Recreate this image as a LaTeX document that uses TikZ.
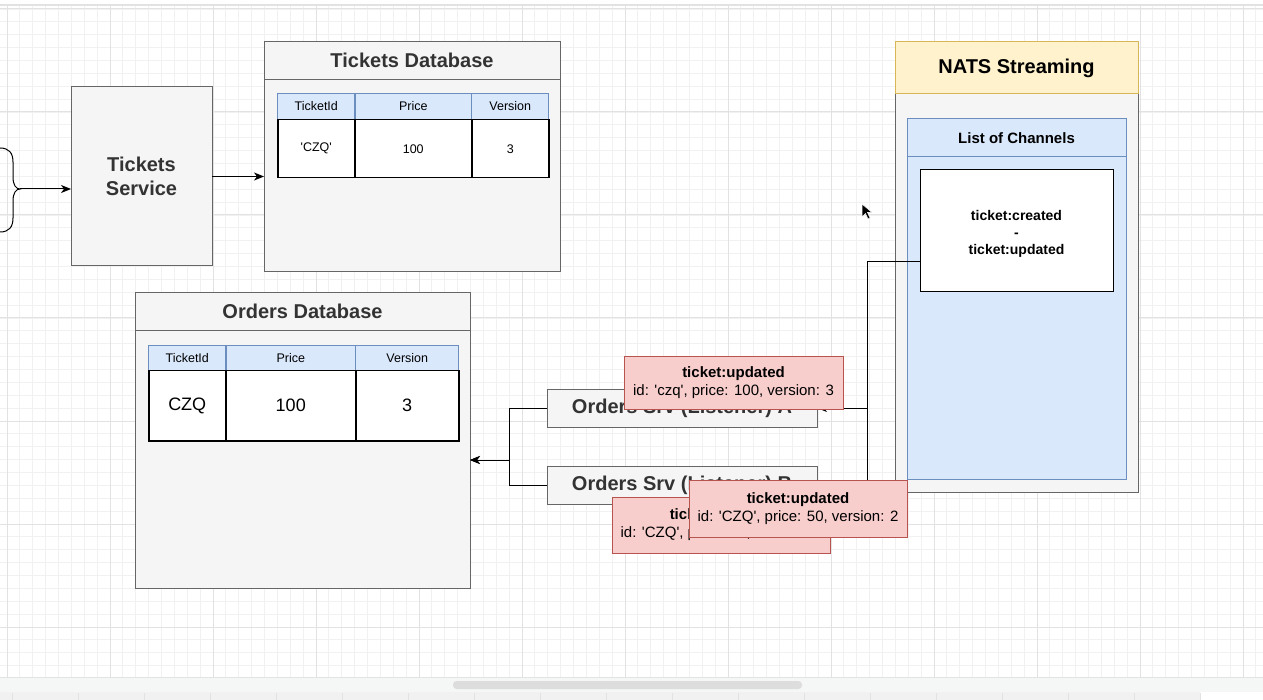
\documentclass[tikz,border=0pt]{standalone}
\usepackage{fontspec}
\setmainfont{Liberation Sans}
\usetikzlibrary{matrix,arrows.meta}

\definecolor{boxgray}{HTML}{F5F5F5}
\definecolor{linegray}{HTML}{666666}
\definecolor{txtgray}{HTML}{333333}
\definecolor{hdblue}{HTML}{DAE8FC}
\definecolor{lnblue}{HTML}{6C8EBF}
\definecolor{evred}{HTML}{F8CECC}
\definecolor{lnred}{HTML}{B85450}
\definecolor{hdyellow}{HTML}{FFF2CC}
\definecolor{lnyellow}{HTML}{D6B656}
\definecolor{gridlight}{HTML}{F1F1F1}
\definecolor{griddark}{HTML}{E2E2E2}
\definecolor{barfill}{HTML}{F5F6F6}
\definecolor{thumbgray}{HTML}{DDDDDD}

\newcommand\sq{\textquotesingle}

\tikzset{
  gridminor/.style={draw=gridlight, line width=0.8pt},
  gridmajor/.style={draw=griddark, line width=1pt},
  graybox/.style={draw=linegray, fill=boxgray, line width=1pt, inner sep=0pt, outer sep=0pt, text=txtgray},
  title/.style={font=\fontsize{20}{24}\selectfont\bfseries, text=txtgray, inner sep=0pt},
  event/.style={draw=lnred, fill=evred, line width=1pt, inner sep=0pt, outer sep=0pt, align=center, font=\fontsize{15}{18}\selectfont},
  conn/.style={draw=black, line width=1pt},
  arr/.style={conn, -{Stealth[length=10pt,width=8pt,inset=3pt]}},
  hcell/.style={draw=lnblue, fill=hdblue, line width=1pt, font=\fontsize{12.5}{15}\selectfont},
  dcell/.style={draw=black, fill=white, line width=1.5pt},
}

\begin{document}
\begin{tikzpicture}[x=1pt,y=-1pt]
      \useasboundingbox (0,0) rectangle (1263,700);
      \fill[white] (0,0) rectangle (1263,700);
      \begin{scope}[shift={(7,9)}]
        \draw[gridminor] (-7,668) grid[step=12.875pt] (1256,-4);
        \draw[gridmajor] (-7,668) grid[step=103pt] (1256,-4);
      \end{scope}
      \draw[griddark, line width=1.2pt] (0,5) -- (1263,5);

      \node[graybox, title, align=center, minimum width=141pt, minimum height=179pt] (ticketsSrv) at (141.5,176.5) {Tickets\\Service};

      \node[graybox, minimum width=296pt, minimum height=230pt] (ticketsDB) at (412,157) {};
      \draw[linegray, line width=1pt] ([yshift=-38pt]ticketsDB.north west) -- ([yshift=-38pt]ticketsDB.north east);
      \node[title] (tdbTitle) at (412,60) {Tickets Database};
      \matrix (tdbTable) [matrix of nodes, ampersand replacement=\&, inner sep=0pt, outer sep=0pt, column sep=-1pt, row sep=-1pt, anchor=north west,
        nodes={inner sep=0pt, outer sep=0pt, anchor=center, font=\fontsize{12.5}{15}\selectfont},
        column 1/.style={nodes={minimum width=77pt}}, column 2/.style={nodes={minimum width=116pt}}, column 3/.style={nodes={minimum width=77pt}},
        row 1/.style={nodes={hcell, minimum height=26pt}}, row 2/.style={nodes={dcell, minimum height=58pt}}] at (277,93)
      {
        TicketId \& Price \& Version \\
        \sq CZQ\sq \& 100 \& 3 \\
      };

      \node[graybox, minimum width=335pt, minimum height=295pt] (ordersDB) at (302.5,440.5) {};
      \draw[linegray, line width=1pt] ([yshift=-38pt]ordersDB.north west) -- ([yshift=-38pt]ordersDB.north east);
      \node[title] (odbTitle) at (302.5,311) {Orders Database};
      \matrix (odbTable) [matrix of nodes, ampersand replacement=\&, inner sep=0pt, outer sep=0pt, column sep=-1pt, row sep=-1pt, anchor=north west,
        nodes={inner sep=0pt, outer sep=0pt, anchor=center, font=\fontsize{18}{22}\selectfont},
        column 1/.style={nodes={minimum width=77pt}}, column 2/.style={nodes={minimum width=129pt}}, column 3/.style={nodes={minimum width=103pt}},
        row 1/.style={nodes={hcell, minimum height=25pt}}, row 2/.style={nodes={dcell, minimum height=70pt}}] at (148,345)
      {
        TicketId \& Price \& Version \\
        CZQ \& 100 \& 3 \\
      };

      \node[graybox, title, minimum width=270pt, minimum height=38pt] (srvA) at (682,408) {Orders Srv (Listener) A};
      \node[graybox, title, minimum width=270pt, minimum height=38pt] (srvB) at (682,485) {Orders Srv (Listener) B};

      \node[graybox, minimum width=243pt, minimum height=450pt] (nats) at (1016.5,267) {};
      \node[draw=lnyellow, fill=hdyellow, line width=1pt, inner sep=0pt, minimum width=243pt, minimum height=52pt, font=\fontsize{20}{24}\selectfont\bfseries] (natsHead) at (1016.5,68) {NATS Streaming};
      \node[draw=lnblue, fill=hdblue, line width=1pt, inner sep=0pt, minimum width=219pt, minimum height=360pt] (channels) at (1016.5,299) {};
      \draw[lnblue, line width=1pt] ([yshift=-38pt]channels.north west) -- ([yshift=-38pt]channels.north east);
      \node[inner sep=0pt, font=\fontsize{15}{18}\selectfont\bfseries] (chanTitle) at (1016.5,138) {List of Channels};
      \node[draw=black, fill=white, line width=1pt, inner sep=0pt, minimum width=193pt, minimum height=122pt,
        label={[inner sep=0pt, yshift=-3pt, align=center, font=\fontsize{14}{17}\selectfont\bfseries]center:ticket:created\\-\\ticket:updated}] (chanList) at (1016.5,231) {};

      \coordinate (braceTip) at (20,189);
      \draw[conn] (0,148) .. controls (9,148) and (13,153) .. (13,162) -- (13,177) .. controls (13,185) and (16,189) .. (braceTip)
        .. controls (16,189) and (13,193) .. (13,201) -- (13,218) .. controls (13,227) and (9,232) .. (0,232);
      \draw[arr] (braceTip) -- (ticketsSrv.west |- braceTip);
      \draw[arr] (ticketsSrv.east) -- (ticketsDB.west |- ticketsSrv.east);

      \coordinate (odbIn) at ([yshift=-19.5pt]ordersDB.east);
      \draw[arr] (srvA.west) -- ++(-38,0) |- (odbIn);
      \draw[arr] (srvB.west) -- ++(-38,0) |- (odbIn);

      \coordinate (chanOut) at ([yshift=-31pt]chanList.west);
      \draw[arr] (chanOut) -- ++(-52,0) |- (srvA.east);
      \draw[arr] (chanOut) -- ++(-52,0) |- (srvB.east);

      \node[event, minimum width=219pt, minimum height=52pt] (evFirst) at (733.5,383) {\textbf{ticket:updated}\\id: \sq czq\sq, price: 100, version: 3};
      \node[event, minimum width=218pt, minimum height=56pt] (evOld) at (721,525) {\textbf{ticket:updated}\\id: \sq CZQ\sq, price: 10, version: 1};
      \node[event, minimum width=218pt, minimum height=57pt] (evSecond) at (798,508.5) {\textbf{ticket:updated}\\id: \sq CZQ\sq, price: 50, version: 2};

      \fill[black, draw=white, line width=0.5pt] (862,204) -- (862,217) -- (865.5,213.5) -- (868,219) -- (870,218) -- (867.5,212.5) -- (872,212.5) -- cycle;

      \fill[barfill] (0,677) rectangle (1263,692);
      \draw[griddark, line width=1pt] (0,677) -- (1263,677);
      \fill[thumbgray, rounded corners=3.5pt] (453,681) rectangle (802,689);
      \fill[gridlight] (0,692) rectangle (1200,700);
      \foreach \tx in {12,78,...,1200}
        \draw[griddark, line width=1pt] (\tx,693) -- (\tx,700);
    \end{tikzpicture}
\end{document}
